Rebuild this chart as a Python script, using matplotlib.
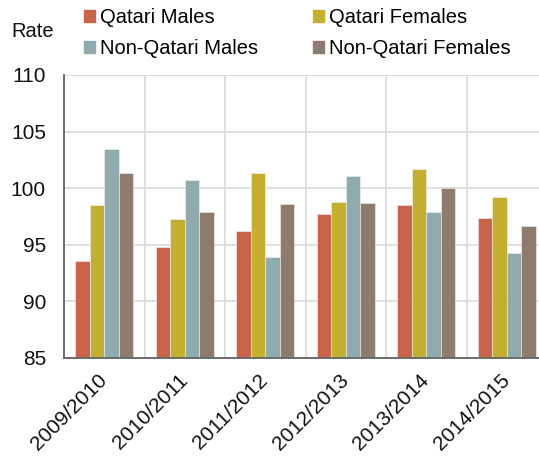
import numpy as np
import matplotlib
matplotlib.use('Agg')
import matplotlib.pyplot as plt
from matplotlib.patches import Patch

plt.rcParams['font.family'] = ['Liberation Sans', 'DejaVu Sans']

years = ['2009/2010', '2010/2011', '2011/2012', '2012/2013', '2013/2014', '2014/2015']
qatari_males = [93.6, 94.8, 96.2, 97.7, 98.5, 97.4]
qatari_females = [98.5, 97.3, 101.3, 98.8, 101.7, 99.2]
non_qatari_males = [103.5, 100.7, 93.9, 101.1, 97.9, 94.3]
non_qatari_females = [101.3, 97.9, 98.6, 98.7, 100.0, 96.7]

series = [
    ('Qatari Males', qatari_males, '#C9644B'),
    ('Qatari Females', qatari_females, '#C5AF30'),
    ('Non-Qatari Males', non_qatari_males, '#8FABAD'),
    ('Non-Qatari Females', non_qatari_females, '#8C7B6E'),
]

FS = 14.5
TICK_FS = 15
W, H = 539, 457
fig = plt.figure(figsize=(W / 100, H / 100), dpi=100)
# axes runs a little past the right edge, last group is cut off
ax = fig.add_axes([64 / W, 99 / H, 483 / W, 283 / H])

x = np.arange(len(years))
bw = 0.181
for i, (name, vals, col) in enumerate(series):
    ax.bar(x + (i - 1.5) * bw, np.array(vals) - 85, bw, bottom=85, color=col,
           edgecolor='#f2f2f2', linewidth=0.4, label=name, zorder=3)

ax.set_ylim(85, 110)
ax.set_xlim(-0.5, 5.5)
ax.set_yticks([85, 90, 95, 100, 105, 110])
ax.set_xticks(x)
ax.set_xticklabels(years, rotation=45, ha='right', va='center', rotation_mode='anchor')
ax.set_xticks(np.arange(0.5, 6, 1), minor=True)

ax.grid(axis='y', color='#d9d9d9', linewidth=1.2, zorder=0)
ax.grid(axis='x', which='minor', color='#d9d9d9', linewidth=1.2, zorder=0)
ax.tick_params(axis='both', which='both', length=0, labelsize=TICK_FS, colors='#111111')
ax.tick_params(axis='y', pad=13)
ax.tick_params(axis='x', pad=14)

for s in ['top', 'right']:
    ax.spines[s].set_visible(False)
for s in ['left', 'bottom']:
    ax.spines[s].set_color('#6b6b6b')
    ax.spines[s].set_linewidth(1.4)
    ax.spines[s].set_zorder(4)

fig.text(11 / W, 1 - 37 / H, 'Rate', fontsize=FS, color='#111111', va='baseline')

# legend fills column by column, so order the entries to read across the rows
order = [0, 2, 1, 3]
handles = [Patch(color=series[k][2]) for k in order]
labels = [series[k][0] for k in order]
fig.legend(handles, labels, ncol=2, loc='upper left', bbox_to_anchor=(84 / W, 1 - 8 / H),
           frameon=False, fontsize=FS, handlelength=0.55, handleheight=0.55,
           handletextpad=0.25, columnspacing=2.7, labelspacing=0.62, borderpad=0,
           borderaxespad=0)

fig.savefig('out.png', dpi=100)
